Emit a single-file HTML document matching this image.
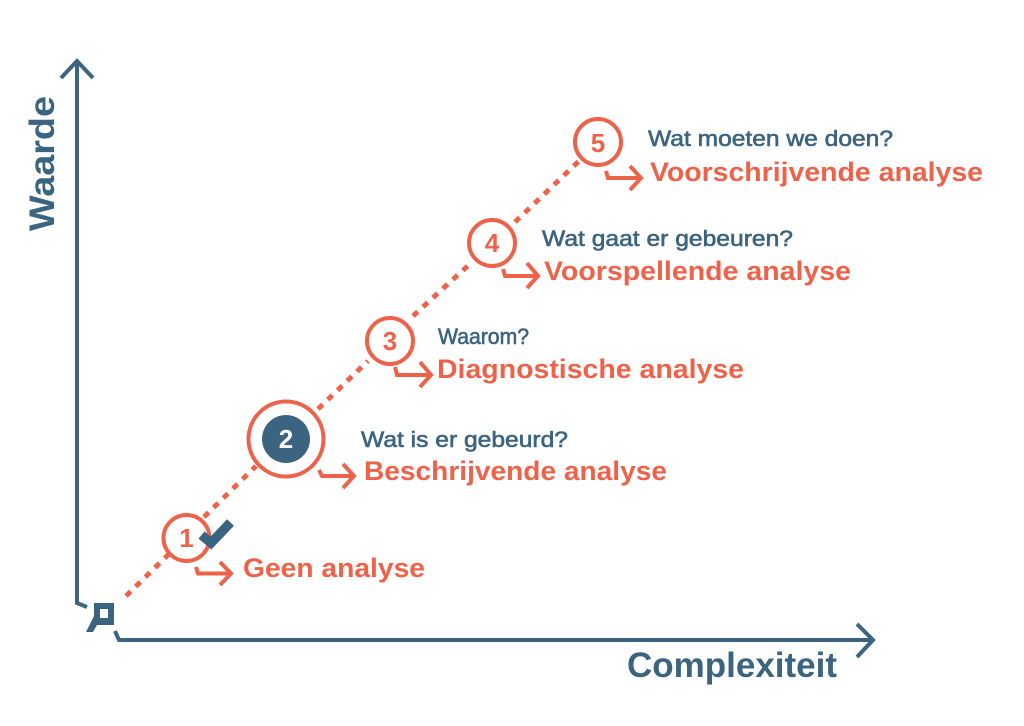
<!DOCTYPE html>
<html><head><meta charset="utf-8"><style>html,body{margin:0;padding:0;background:#fff}svg{display:block}
text{font-family:"Liberation Sans",sans-serif}
.q{font-size:22px;fill:#3b6480;font-weight:400;stroke:#3b6480;stroke-width:.6}
.t{font-size:27px;fill:#ee624a;font-weight:700}
.n{font-size:26px;fill:#ee624a;font-weight:700;text-anchor:middle}
</style></head><body>
<svg width="1024" height="726" viewBox="0 0 1024 726" xmlns="http://www.w3.org/2000/svg">
<rect width="1024" height="726" fill="#fff"/>
<!-- axes -->
<g fill="none" stroke="#3b6480" stroke-width="4">
<path d="M77 62V603L87 607"/>
<path d="M61 78L77 61L93 78"/>
<path d="M115 631L119 640H873"/>
<path d="M857 624L873 640L857 657"/>
</g>
<path d="M94 603H114V625H97L93 632H86L94 616ZM100 609V618H108V609Z" fill="#3b6480" fill-rule="evenodd"/>
<!-- dotted line -->
<path d="M126 596L170 553M204 517L256 466M318 409L368 361M413 316L472 262M515 222L579 161" fill="none" stroke="#ee624a" stroke-width="5" stroke-dasharray="6.500 7"/>
<!-- circles -->
<g fill="#fff" stroke="#ee624a" stroke-width="4">
<circle cx="186.500" cy="538" r="23"/>
<circle cx="286" cy="439" r="37.500"/>
<circle cx="390" cy="341" r="23"/>
<circle cx="492" cy="243" r="23"/>
<circle cx="598" cy="142" r="23"/>
</g>
<circle cx="286" cy="439" r="24" fill="#3b6480"/>
<text x="186.500" y="547" class="n">1</text>
<text x="286" y="448" class="n" style="fill:#fff">2</text>
<text x="390" y="350" class="n">3</text>
<text x="492" y="252" class="n">4</text>
<text x="598" y="152" class="n">5</text>
<!-- check -->
<path d="M201.500 535L211 543L230.500 522.500" fill="none" stroke="#3b6480" stroke-width="9.500"/>
<!-- arrows -->
<g fill="none" stroke="#ee624a" stroke-width="4">
<path d="M196 567L198 573.500H230M220 562L231 573.500L220 585"/>
<path d="M319 470L322 476H353M343 464L354 476L343 488"/>
<path d="M395 367L397 375H430M420 362L431 375L420 387"/>
<path d="M503 269L505 276H537M527 263L538 276L527 288"/>
<path d="M606 171L608 178H640M630 166L641 178L630 190"/>
</g>
<!-- labels -->
<text x="648" y="146" class="q" textLength="245" lengthAdjust="spacingAndGlyphs">Wat moeten we doen?</text>
<text x="650" y="181" class="t" textLength="333" lengthAdjust="spacingAndGlyphs">Voorschrijvende analyse</text>
<text x="542" y="246" class="q" textLength="251" lengthAdjust="spacingAndGlyphs">Wat gaat er gebeuren?</text>
<text x="544" y="280" class="t" textLength="307" lengthAdjust="spacingAndGlyphs">Voorspellende analyse</text>
<text x="438" y="344" class="q" textLength="91" lengthAdjust="spacingAndGlyphs">Waarom?</text>
<text x="437" y="378" class="t" textLength="307" lengthAdjust="spacingAndGlyphs">Diagnostische analyse</text>
<text x="361" y="447" class="q" textLength="207" lengthAdjust="spacingAndGlyphs">Wat is er gebeurd?</text>
<text x="364" y="480" class="t" textLength="303" lengthAdjust="spacingAndGlyphs">Beschrijvende analyse</text>
<text x="243" y="577" class="t" textLength="182" lengthAdjust="spacingAndGlyphs">Geen analyse</text>
<text x="627" y="677" style="font-size:35px;font-weight:700;fill:#3b6480" textLength="210" lengthAdjust="spacingAndGlyphs">Complexiteit</text>
<text transform="translate(54 231) rotate(-90)" style="font-size:35px;font-weight:700;fill:#3b6480" textLength="135" lengthAdjust="spacingAndGlyphs">Waarde</text>
</svg>
</body></html>
